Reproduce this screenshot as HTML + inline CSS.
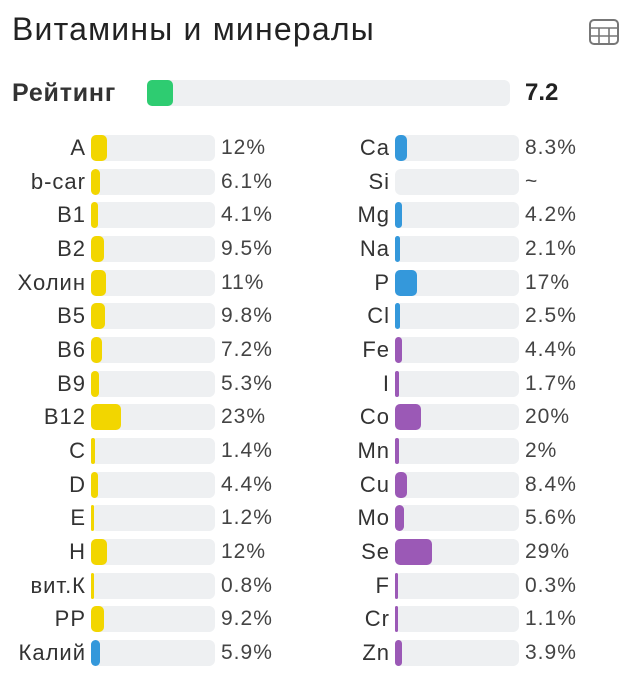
<!DOCTYPE html><html><head><meta charset="utf-8"><style>
body{margin:0;width:634px;height:680px;background:#fff;font-family:"Liberation Sans","DejaVu Sans",sans-serif;color:#333;position:relative;overflow:hidden}
.a{position:absolute}
.t{left:12px;top:11px;font-size:32px;letter-spacing:1.2px;color:#222}
.bg{background:#eef0f2;border-radius:6px;height:26px}
.f{position:absolute;left:0;top:0;height:26px;border-radius:5px}
.l{position:absolute;text-align:right;font-size:22px;letter-spacing:1px;line-height:26px;color:#333;width:140px}
.v{position:absolute;font-size:21px;letter-spacing:1px;line-height:26px;color:#444}
</style></head><body>
<div class="a t">Витамины и минералы</div>
<svg class="a" style="left:588px;top:18px" width="32" height="28" viewBox="0 0 32 28"><rect x="2" y="2" width="28" height="24" rx="4" fill="none" stroke="#777" stroke-width="2"/><line x1="2" y1="10" x2="30" y2="10" stroke="#777" stroke-width="1.6"/><line x1="2" y1="18" x2="30" y2="18" stroke="#777" stroke-width="1.6"/><line x1="11" y1="10" x2="11" y2="26" stroke="#777" stroke-width="1.6"/><line x1="21" y1="10" x2="21" y2="26" stroke="#777" stroke-width="1.6"/></svg>
<div class="a" style="left:12px;top:79px;font-size:25px;letter-spacing:0.8px;font-weight:bold;color:#333;line-height:28px">Рейтинг</div>
<div class="a bg" style="left:147px;top:80px;width:363px"><div class="f" style="width:26px;background:#2ecc71"></div></div>
<div class="a" style="left:525px;top:79px;font-size:24px;font-weight:bold;color:#222;line-height:28px">7.2</div>
<div id="c"></div>
<script>
var L=[["A",12],["b-car",6.1],["B1",4.1],["B2",9.5],["Холин",11],["B5",9.8],["B6",7.2],["B9",5.3],["B12",23],["C",1.4],["D",4.4],["E",1.2],["H",12],["вит.К",0.8],["PP",9.2],["Калий",5.9,1]];
var R=[["Ca",8.3,"#3498db"],["Si",null],["Mg",4.2,"#3498db"],["Na",2.1,"#3498db"],["P",17,"#3498db"],["Cl",2.5,"#3498db"],["Fe",4.4,"#9b59b6"],["I",1.7,"#9b59b6"],["Co",20,"#9b59b6"],["Mn",2,"#9b59b6"],["Cu",8.4,"#9b59b6"],["Mo",5.6,"#9b59b6"],["Se",29,"#9b59b6"],["F",0.3,"#9b59b6"],["Cr",1.1,"#9b59b6"],["Zn",3.9,"#9b59b6"]];
var h="";
function row(x,y,n,p,col){
 h+='<div class="l" style="left:'+(x-145)+'px;top:'+y+'px">'+n+'</div>';
 var w=p==null?0:Math.max(3,Math.round(1.2*p+2));
 h+='<div class="a bg" style="left:'+x+'px;top:'+y+'px;width:124px">'+(w?'<div class="f" style="width:'+w+'px;background:'+col+'"></div>':'')+'</div>';
 h+='<div class="v" style="left:'+(x+130)+'px;top:'+y+'px">'+(p==null?'~':p+'%')+'</div>';
}
for(var i=0;i<16;i++){var y=Math.round(135+i*33.67);
 row(91,y,L[i][0],L[i][1],L[i][2]?"#3498db":"#f2d600");
 row(395,y,R[i][0],R[i][1],R[i][2]);}
document.getElementById("c").innerHTML=h;
</script>
</body></html>
